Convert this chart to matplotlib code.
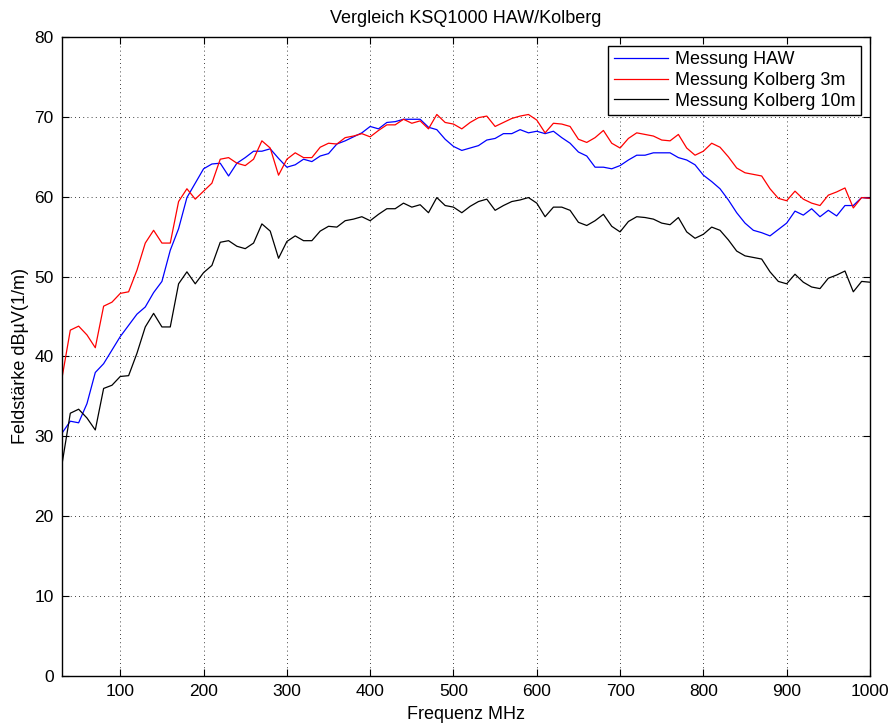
import numpy as np
import matplotlib.pyplot as plt

plt.rcParams['font.family'] = ['Liberation Sans', 'DejaVu Sans']

# Frequenzraster 30 ... 1000 MHz in 10-MHz-Schritten
freq_mhz = np.arange(30, 1001, 10)

haw = [
    30.4, 31.9, 31.7, 34.1, 38.0, 39.1, 40.8, 42.5, 43.9, 45.3,
    46.2, 48.0, 49.4, 53.3, 56.0, 59.9, 61.7, 63.5, 64.1, 64.2,
    62.6, 64.2, 64.9, 65.7, 65.7, 66.0, 64.8, 63.7, 64.0, 64.7,
    64.4, 65.1, 65.4, 66.6, 67.0, 67.5, 68.0, 68.8, 68.5, 69.3,
    69.4, 69.7, 69.7, 69.7, 68.7, 68.4, 67.2, 66.3, 65.8, 66.1,
    66.4, 67.1, 67.3, 67.9, 67.9, 68.4, 68.0, 68.2, 67.9, 68.2,
    67.4, 66.7, 65.6, 65.1, 63.7, 63.7, 63.5, 63.9, 64.6, 65.2,
    65.2, 65.5, 65.5, 65.5, 64.9, 64.6, 64.0, 62.7, 61.9, 61.0,
    59.6, 58.0, 56.7, 55.8, 55.5, 55.1, 55.9, 56.7, 58.2, 57.7,
    58.5, 57.5, 58.3, 57.6, 58.9, 58.9, 59.9, 59.8,
]

kolberg_3m = [
    37.3, 43.3, 43.8, 42.7, 41.1, 46.3, 46.8, 47.9, 48.1, 50.8,
    54.2, 55.8, 54.2, 54.2, 59.4, 61.0, 59.7, 60.7, 61.7, 64.7,
    64.9, 64.2, 63.9, 64.7, 67.0, 66.1, 62.7, 64.7, 65.5, 64.9,
    64.9, 66.2, 66.7, 66.6, 67.4, 67.6, 67.9, 67.5, 68.3, 69.0,
    69.0, 69.7, 69.2, 69.5, 68.5, 70.3, 69.3, 69.1, 68.5, 69.3,
    69.9, 70.1, 68.8, 69.3, 69.8, 70.1, 70.3, 69.6, 68.0, 69.2,
    69.1, 68.8, 67.2, 66.8, 67.4, 68.3, 66.7, 66.1, 67.3, 68.0,
    67.8, 67.6, 67.1, 67.0, 67.8, 66.1, 65.2, 65.7, 66.7, 66.2,
    65.0, 63.6, 63.0, 62.8, 62.6, 61.0, 59.8, 59.5, 60.7, 59.7,
    59.2, 58.9, 60.2, 60.6, 61.1, 58.6, 59.9, 59.8,
]

kolberg_10m = [
    26.5, 32.9, 33.4, 32.3, 30.8, 36.0, 36.4, 37.5, 37.6, 40.4,
    43.7, 45.4, 43.7, 43.7, 49.1, 50.6, 49.1, 50.5, 51.4, 54.3,
    54.5, 53.8, 53.5, 54.2, 56.6, 55.7, 52.3, 54.4, 55.1, 54.5,
    54.5, 55.7, 56.3, 56.2, 57.0, 57.2, 57.5, 57.0, 57.8, 58.5,
    58.5, 59.2, 58.7, 59.0, 58.0, 59.9, 58.9, 58.7, 58.0, 58.8,
    59.4, 59.7, 58.3, 58.9, 59.4, 59.6, 59.9, 59.2, 57.5, 58.7,
    58.7, 58.3, 56.8, 56.4, 57.0, 57.8, 56.3, 55.6, 56.9, 57.5,
    57.4, 57.2, 56.7, 56.5, 57.4, 55.6, 54.8, 55.3, 56.2, 55.8,
    54.6, 53.2, 52.6, 52.4, 52.2, 50.6, 49.4, 49.1, 50.3, 49.3,
    48.7, 48.5, 49.8, 50.2, 50.7, 48.1, 49.4, 49.3,
]

x_ticks = [100, 200, 300, 400, 500, 600, 700, 800, 900, 1000]
y_ticks = [0, 10, 20, 30, 40, 50, 60, 70, 80]

fig = plt.figure(figsize=(8.93, 7.24), dpi=100)
ax = fig.add_axes([0.0694, 0.0663, 0.9048, 0.8826])

ax.plot(freq_mhz, haw, color='#0000ff', lw=0.9, label='Messung HAW')
ax.plot(freq_mhz, kolberg_3m, color='#ff0000', lw=0.9, label='Messung Kolberg 3m')
ax.plot(freq_mhz, kolberg_10m, color='#000000', lw=0.9, label='Messung Kolberg 10m')

ax.set_xlim(30, 1000)
ax.set_ylim(0, 80)
ax.set_xticks(x_ticks)
ax.set_yticks(y_ticks)
ax.tick_params(direction='in', length=5, width=0.8, top=True, right=True,
               labelsize=12.5, pad=6)
ax.grid(True, linestyle=(0, (1, 4)), color='black', linewidth=0.6)
for sp in ax.spines.values():
    sp.set_linewidth(1.0)

ax.set_title('Vergleich KSQ1000 HAW/Kolberg', fontsize=13, pad=10)
ax.set_xlabel('Frequenz MHz', fontsize=13, labelpad=5)
ax.set_ylabel('Feldstärke dBµV(1/m)', fontsize=13, labelpad=4)

leg = ax.legend(loc='upper right', fontsize=13, fancybox=False, framealpha=1,
                edgecolor='black', borderaxespad=0.5, handlelength=3.0,
                labelspacing=0.2, borderpad=0.3, handletextpad=0.4)
leg.get_frame().set_linewidth(1.0)

fig.savefig('out.png', dpi=100)
